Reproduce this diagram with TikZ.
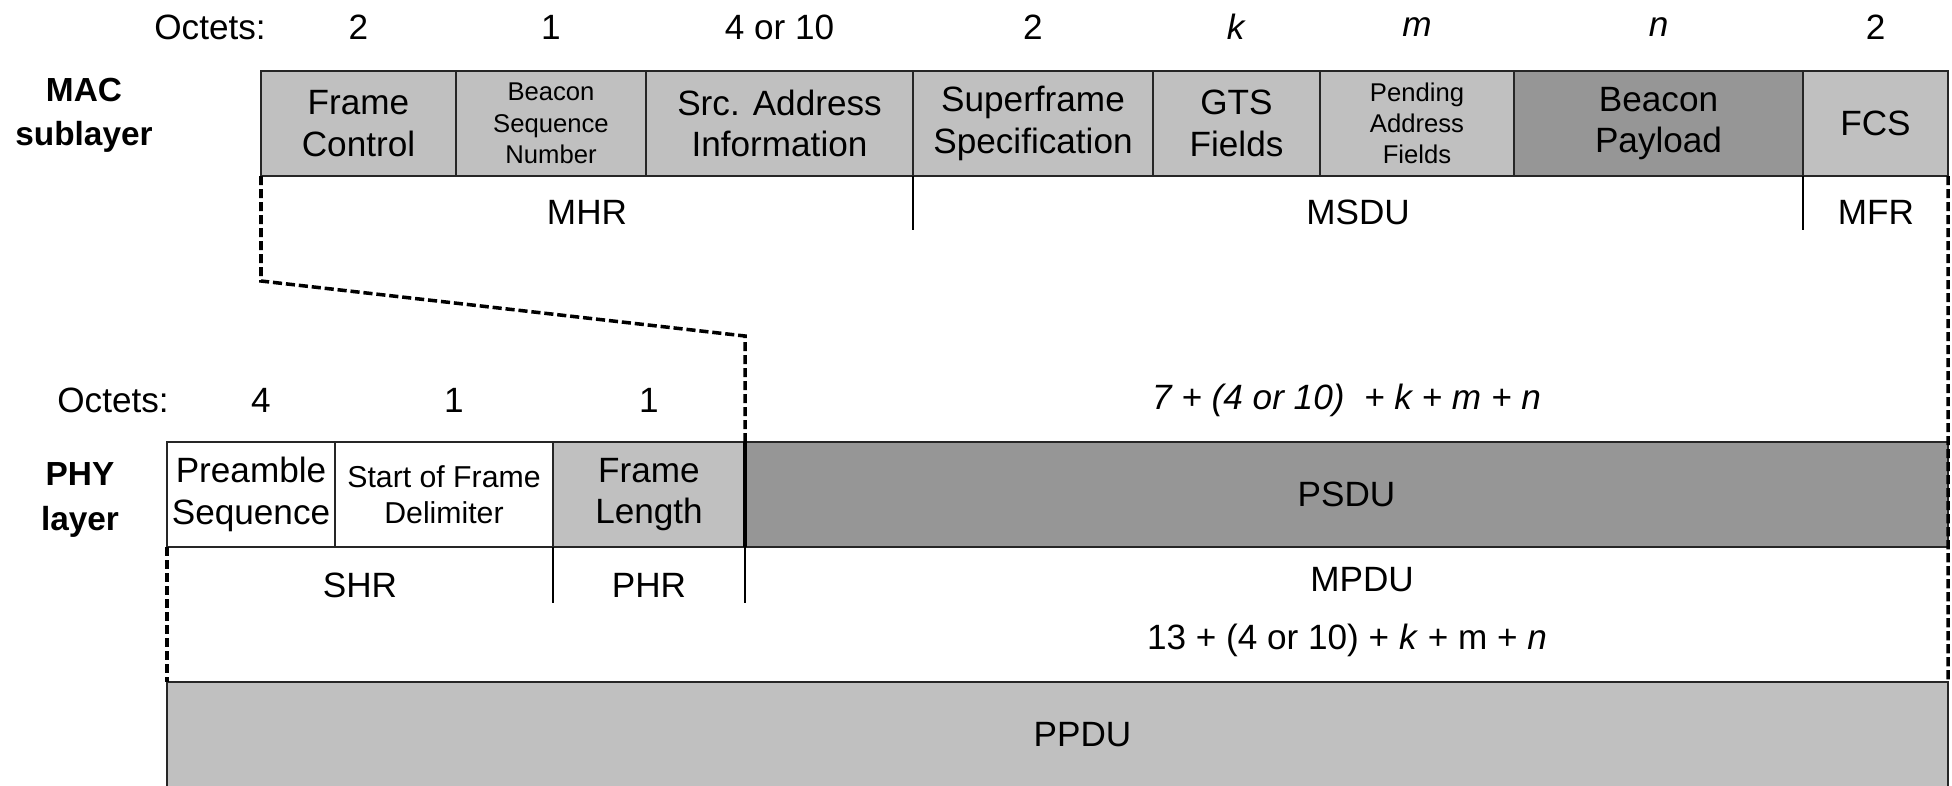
\documentclass[tikz,border=0pt]{standalone}
\usepackage{fontspec}
\setmainfont{Liberation Sans}
\usepackage{tikz}
\usetikzlibrary{positioning}
\definecolor{fldgray}{HTML}{C0C0C0}
\definecolor{fldgrayd}{HTML}{969696}
\tikzset{
  fld/.style={draw=black!85,line width=0.7pt,minimum height=1.05cm,inner sep=0pt,outer sep=0pt,align=center,font=\fontsize{10}{11.8}\selectfont},
  fldsmall/.style={fld,font=\fontsize{7.3}{8.9}\selectfont},
  octlab/.style={font=\fontsize{10}{12}\selectfont,inner sep=0pt},
  layerlab/.style={font=\fontsize{9.5}{12.6}\selectfont\bfseries,align=center,inner sep=0pt},
  seglab/.style={font=\fontsize{10}{12}\selectfont,inner sep=0pt},
  segtick/.style={line width=0.5pt},
  zoomline/.style={line width=1pt,dash pattern=on 2.6pt off 1.1pt},
}

\begin{document}
\begin{tikzpicture}
  \useasboundingbox (0,0) rectangle (19.52,-7.85);
  \coordinate (octrow) at (0,-0.27);
  \coordinate (octrowb) at (0,-4.00);

  % MAC sublayer frame
  \node[fld,fill=fldgray,anchor=north west,minimum width=1.95cm] (fc) at (2.61,-0.71) {Frame\\Control};
  \node[fldsmall,fill=fldgray,minimum width=1.90cm,right=0pt of fc] (bsn) {Beacon\\Sequence\\Number};
  \node[fld,fill=fldgray,minimum width=2.67cm,right=0pt of bsn] (src) {Src. Address\\Information};
  \node[fld,fill=fldgray,minimum width=2.40cm,right=0pt of src] (ss) {Superframe\\Specification};
  \node[fld,fill=fldgray,minimum width=1.67cm,right=0pt of ss] (gts) {GTS\\Fields};
  \node[fldsmall,fill=fldgray,minimum width=1.94cm,right=0pt of gts] (paf) {Pending\\Address\\Fields};
  \node[fld,fill=fldgrayd,minimum width=2.89cm,right=0pt of paf] (bp) {Beacon\\Payload};
  \node[fld,fill=fldgray,minimum width=1.45cm,right=0pt of bp] (fcs) {FCS};

  \node[layerlab] (mac) at (0.84,-1.15) {MAC\\sublayer};

  \node[octlab] (octa) at (2.10,-0.27) {Octets:};
  \node[octlab] (ofc) at (fc |- octrow) {2};
  \node[octlab] (obsn) at (bsn |- octrow) {1};
  \node[octlab] (osrc) at (src |- octrow) {4 or 10};
  \node[octlab] (oss) at (ss |- octrow) {2};
  \node[octlab] (ogts) at (gts |- octrow) {\textit{k}};
  \node[octlab] (opaf) at (paf |- octrow) {\textit{m}};
  \node[octlab] (obp) at (bp |- octrow) {\textit{n}};
  \node[octlab] (ofcs) at (fcs |- octrow) {2};

  \draw[segtick] (ss.south west) -- ++(0,-0.54);
  \draw[segtick] (fcs.south west) -- ++(0,-0.54);
  \node[seglab] (mhr) at (5.87,-2.12) {MHR};
  \node[seglab] (msdu) at (13.58,-2.12) {MSDU};
  \node[seglab] (mfr) at (18.76,-2.12) {MFR};

  % PHY layer frame
  \node[fld,anchor=north west,minimum width=1.68cm] (pre) at (1.67,-4.42) {Preamble\\Sequence};
  \node[fld,font=\fontsize{8.6}{10.4}\selectfont,minimum width=2.18cm,right=0pt of pre] (sfd) {Start of Frame\\Delimiter};
  \node[fld,fill=fldgray,minimum width=1.92cm,right=0pt of sfd] (fl) {Frame\\Length};
  \node[fld,fill=fldgrayd,minimum width=12.03cm,right=0pt of fl] (psdu) {PSDU};

  \node[layerlab] (phy) at (0.80,-5.00) {PHY\\layer};

  \node[octlab] (octb) at (1.13,-4.00) {Octets:};
  \node[octlab] (opre) at ([xshift=1mm]pre |- octrowb) {4};
  \node[octlab] (osfd) at ([xshift=1mm]sfd |- octrowb) {1};
  \node[octlab] (ofl) at (fl |- octrowb) {1};
  \node[octlab] (opsdu) at (psdu |- octrowb) {\textit{7 + (4 or 10) \ + k + m + n}};

  \draw[segtick] (fl.south west) -- ++(0,-0.56);
  \draw[segtick] (psdu.south west) -- ++(0,-0.56);
  \node[seglab] (shr) at (3.60,-5.85) {SHR};
  \node[seglab] (phr) at (6.49,-5.85) {PHR};
  \node[seglab] (mpdu) at (13.62,-5.80) {MPDU};
  \node[seglab] (mpdulen) at (13.47,-6.40) {13 + (4 or 10) + \textit{k} + m + \textit{n}};

  \node[fld,fill=fldgray,anchor=north west,minimum width=17.81cm,minimum height=1.06cm] (ppdu) at (1.67,-6.82) {\hspace*{0.5cm}PPDU};

  % dashed mapping of the MAC frame onto the PSDU
  \coordinate (kneeA) at (2.61,-2.81);
  \coordinate (kneeB) at (7.45,-3.36);
  \draw[zoomline] (fc.south west) -- (kneeA) -- (kneeB) -- (psdu.north west);
  \draw[zoomline] (fcs.south east) -- (ppdu.north east);
  \draw[zoomline] (pre.south west) -- (ppdu.north west);
  \draw[line width=1.3pt] (psdu.north west) -- (psdu.south west);
\end{tikzpicture}
\end{document}
